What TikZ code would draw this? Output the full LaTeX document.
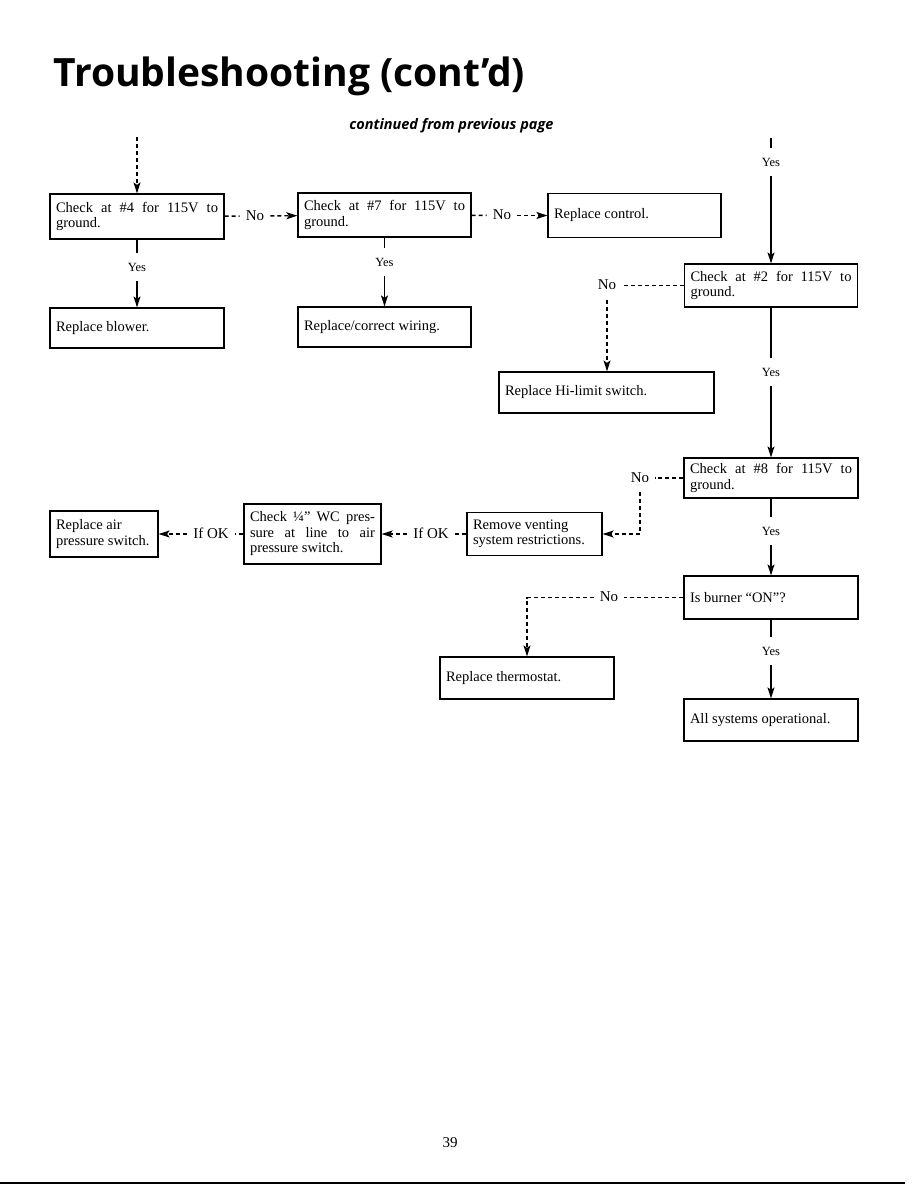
\documentclass[tikz,border=0pt]{standalone}
\usepackage{fontspec}
\setmainfont{Liberation Serif}
\newfontfamily\headfont{Open Sans}
\usetikzlibrary{arrows.meta}

\newcommand\flowtxt{\fontsize{14.5}{15.5}\selectfont}
\newcommand\yestxt{\fontsize{12.5}{13}\selectfont}
\newcommand\notxt{\fontsize{15}{16}\selectfont}

\begin{document}
\begin{tikzpicture}[x=1pt,y=-1pt,
  fbox/.style={draw,line width=1.2pt,inner xsep=6pt,inner ysep=2pt,font=\flowtxt,align=justify},
  lbl/.style={inner xsep=6pt,inner ysep=9pt,text height=9pt,text depth=1pt},
  yeslbl/.style={lbl,font=\yestxt},
  nolbl/.style={lbl,font=\notxt},
  conn/.style={line width=1.4pt},
  dconn/.style={conn,dash pattern=on 4pt off 3pt},
  >={Stealth[length=11pt,width=7pt,inset=2.5pt]}]
\useasboundingbox (0,0) rectangle (918,1188);

\node[anchor=base west] (title) at (50,87) {\headfont\bfseries\fontsize{39}{43}\selectfont Troubleshooting (cont’d)};
\node[anchor=base east] (cont) at (557,129) {\headfont\bfseries\itshape\fontsize{14.5}{16}\selectfont continued from previous page};

% boxes
\node[fbox,text width=162pt,minimum height=45pt] (chk4) at (137,216.5) {Check at \#4 for 115V to\linebreak ground.};
\node[fbox,text width=162pt,minimum height=40pt] (blower) at (137,328) {Replace blower.};
\node[fbox,text width=161pt,minimum height=44pt] (chk7) at (384.5,215) {Check at \#7 for 115V to\linebreak ground.};
\node[fbox,text width=161pt,minimum height=40pt] (wiring) at (384.5,327) {Replace/correct wiring.};
\node[fbox,text width=161pt,minimum height=44pt] (ctrl) at (634.5,215.5) {Replace control.};
\node[fbox,text width=161pt,minimum height=43pt] (chk2) at (771,285.5) {Check at \#2 for 115V to\linebreak ground.};
\node[fbox,text width=203pt,minimum height=41pt] (hilimit) at (606.5,392.5) {Replace Hi-limit switch.};
\node[fbox,text width=162pt,minimum height=40pt] (chk8) at (771,478) {Check at \#8 for 115V to\linebreak ground.};
\node[fbox,text width=162pt,minimum height=43pt] (burner) at (771,597.5) {Is burner “ON”?};
\node[fbox,text width=162pt,minimum height=42pt] (allok) at (771,720) {All systems operational.};
\node[fbox,text width=162pt,minimum height=42pt] (thermo) at (527,678) {Replace thermostat.};
\node[fbox,text width=123pt,minimum height=43pt] (venting) at (534.5,534) {Remove venting\\ system restrictions.};
\node[fbox,text width=125pt,minimum height=60pt] (wcpress) at (312.5,534) {Check ¼” WC pres-\linebreak sure at line to air\linebreak pressure switch.};
\node[fbox,text width=96pt,minimum height=46pt] (airsw) at (104,534) {Replace air\\ pressure switch.};

% labels
\coordinate (in1) at (137,137);
\coordinate (in2) at (771,138);
\node[yeslbl] (yes0) at (771,162) {Yes};
\node[yeslbl] (yes1) at (137,267) {Yes};
\node[yeslbl] (yes2) at (384.5,262) {Yes};
\node[yeslbl] (yes3) at (771,372) {Yes};
\node[yeslbl] (yes4) at (771,531) {Yes};
\node[yeslbl] (yes5) at (771,651) {Yes};
\node[nolbl] (no1) at (255,216) {No};
\node[nolbl] (no2) at (502,215.5) {No};
\node[nolbl] (no3) at (607,285.5) {No};
\node[nolbl] (no4) at (640,478) {No};
\node[nolbl] (no5) at (609,597.5) {No};
\node[nolbl] (ok1) at (431,534) {If OK};
\node[nolbl] (ok2) at (211,534) {If OK};

% connectors
\draw[dconn,->] (in1) -- (chk4);
\draw[conn] (chk4) -- (yes1);
\draw[conn,->] (yes1) -- (blower);
\draw[dconn] (chk4) -- (no1);
\draw[dconn,->] (no1) -- (chk7);
\draw[conn] (chk7) -- (yes2);
\draw[conn,->] (yes2) -- (wiring);
\draw[dconn] (chk7) -- (no2);
\draw[dconn,->] (no2) -- (ctrl);
\draw[conn] (in2) -- (yes0);
\draw[conn,->] (yes0) -- (chk2);
\draw[dconn] (chk2) -- (no3);
\draw[dconn,->] (no3) -- (no3 |- hilimit.north);
\draw[conn] (chk2) -- (yes3);
\draw[conn,->] (yes3) -- (chk8);
\draw[dconn] (chk8) -- (no4);
\draw[dconn,->] (no4) |- (venting);
\draw[conn] (chk8) -- (yes4);
\draw[conn,->] (yes4) -- (burner);
\draw[dconn] (burner) -- (no5);
\draw[dconn,->] (no5) -| (thermo);
\draw[conn] (burner) -- (yes5);
\draw[conn,->] (yes5) -- (allok);
\draw[dconn] (venting) -- (ok1);
\draw[dconn,->] (ok1) -- (wcpress);
\draw[dconn] (wcpress) -- (ok2);
\draw[dconn,->] (ok2) -- (airsw);

\node[anchor=base] (pgno) at (450,1147) {\fontsize{15}{16}\selectfont 39};
\draw[line width=1.5pt] (0,1183) -- (905,1183);
\end{tikzpicture}
\end{document}
